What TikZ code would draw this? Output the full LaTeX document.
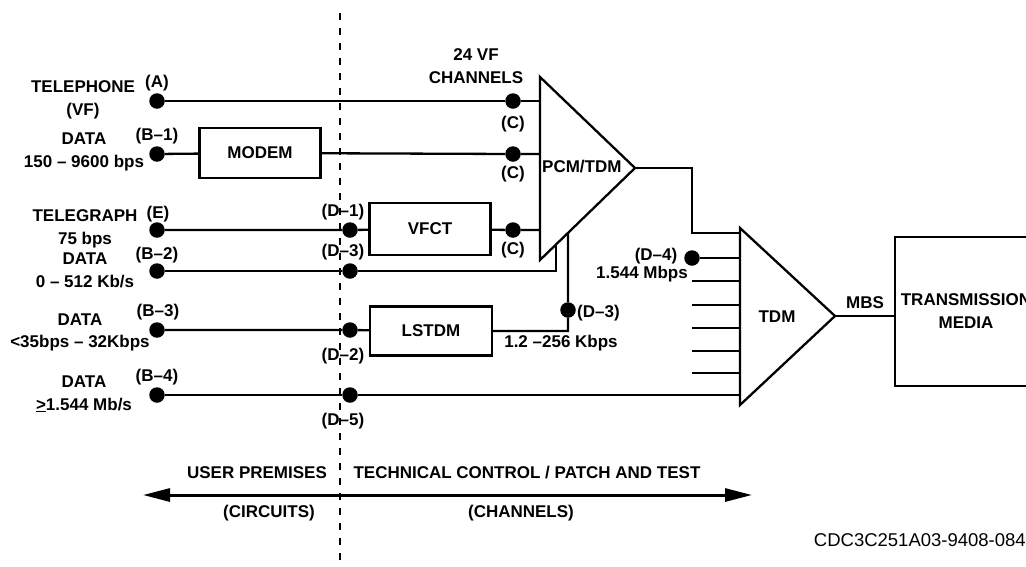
\documentclass[tikz,border=0pt]{standalone}
\usepackage{fontspec}
\setmainfont{Liberation Sans}
\usetikzlibrary{positioning,calc,arrows.meta}
\tikzset{
  wire/.style={line width=2.3pt,draw=black},
  dot/.style={circle,fill=black,inner sep=0pt,minimum size=15.5pt},
  unitbox/.style={draw=black,line width=2.3pt,inner sep=0pt,
    font=\fontsize{17}{23}\selectfont\bfseries,align=center},
  lbl/.style={font=\fontsize{17}{22.5}\selectfont\bfseries,align=center,inner sep=0pt},
  divider/.style={line width=2.2pt,dash pattern=on 7pt off 8pt},
  span/.style={line width=3pt,{Triangle[length=27pt,width=13pt]}-{Triangle[length=27pt,width=13pt]}},
}

\begin{document}
\begin{tikzpicture}[x=1pt,y=-1pt]
  \useasboundingbox (0,0) rectangle (1026,566);
  \draw[divider] (340,13) -- (340,566);

  \node[dot] (a)  at (157,101) {};
  \node[dot] (b1) at (157,154) {};
  \node[dot] (e)  at (157,230) {};
  \node[dot] (b2) at (157,271) {};
  \node[dot] (b3) at (157,330) {};
  \node[dot] (b4) at (157,395) {};
  \node[dot] (d1) at (350,230) {};
  \node[dot] (d3) at (350,271) {};
  \node[dot] (d2) at (350,330) {};
  \node[dot] (d5) at (350,395) {};
  \node[dot] (c1) at (513,101) {};
  \node[dot] (c2) at (513,154) {};
  \node[dot] (c3) at (513,230) {};
  \node[dot] (d3b) at (568,310) {};
  \node[dot] (d4) at (692,258) {};

  \node[unitbox,minimum width=121pt,minimum height=50pt] (modem) at (260,153) {MODEM};
  \node[unitbox,minimum width=121pt,minimum height=52pt] (vfct) at (430,229) {VFCT};
  \node[unitbox,minimum width=122pt,minimum height=49pt] (lstdm) at (431,331) {LSTDM};
  \node[unitbox,minimum width=142pt,minimum height=149pt] (media) at (966,311.5) {TRANSMISSION\\MEDIA};

  \coordinate (pcmT) at (540,77);
  \coordinate (pcmB) at (540,260);
  \coordinate (pcmO) at (635,168);
  \coordinate (tdmT) at (740,228);
  \coordinate (tdmB) at (740,405);
  \coordinate (tdmO) at (835,316);
  \coordinate (pcmIn1) at ($(pcmB)!0.168!(pcmO)$);
  \coordinate (pcmIn2) at ($(pcmB)!0.295!(pcmO)$);
  \coordinate (bend) at (692,233);
  \draw[wire,line join=miter] (pcmT) -- (pcmO) -- (pcmB) -- cycle;
  \draw[wire,line join=miter] (tdmT) -- (tdmO) -- (tdmB) -- cycle;
  \node[lbl,anchor=west] (pcm) at (542,167) {PCM/TDM};
  \node[lbl] (tdm) at (777,317) {TDM};

  \draw[wire] (a) -- (c1) -- (c1 -| pcmT);
  \draw[wire] (b1) -- (modem);
  \draw[wire] (modem) -- (c2) -- (c2 -| pcmT);
  \draw[wire] (e) -- (d1) -- (vfct);
  \draw[wire] (vfct) -- (c3) -- (c3 -| pcmT);
  \draw[wire] (b2) -- (d3) -- (d3 -| pcmIn1) -- (pcmIn1);
  \draw[wire] (b3) -- (d2) -- (lstdm);
  \draw[wire] (lstdm.east) -- (lstdm.east -| pcmIn2) -- (d3b) -- (pcmIn2);
  \draw[wire] (b4) -- (d5) -- (d5 -| tdmT);
  \draw[wire] (pcmO) -- (pcmO -| bend) -- (bend) -- (bend -| tdmT);
  \draw[wire] (d4) -- (d4 -| tdmT);
  \foreach \y [count=\i] in {281,305,328,351,373}{
    \coordinate (stub\i) at (692,\y);
    \draw[wire] (stub\i) -- (stub\i -| tdmT);
  }
  \draw[wire] (tdmO) -- (tdmO -| media.west);

  \node[lbl] (telLbl) at (83,100) {TELEPHONE\\(VF)};
  \node[lbl] (data1Lbl) at (84,152) {DATA\\150 – 9600 bps};
  \node[lbl] (tgLbl) at (85,229) {TELEGRAPH\\75 bps};
  \node[lbl] (data2Lbl) at (85,270.5) {DATA\\0 – 512 Kb/s};
  \node[lbl] (data3Lbl) at (80,332.5) {DATA\\<35bps – 32Kbps};
  \node[lbl] (data4Lbl) at (84,394) {DATA\\\underline{>}1.544 Mb/s};
  \node[lbl] at (157,83) {(A)};
  \node[lbl] at (157,136) {(B–1)};
  \node[lbl] at (158,214) {(E)};
  \node[lbl] at (157,255) {(B–2)};
  \node[lbl] at (158,312) {(B–3)};
  \node[lbl] at (157,377) {(B–4)};
  \node[lbl] at (343,212) {(D–1)};
  \node[lbl] at (343,252) {(D–3)};
  \node[lbl] at (343,356) {(D–2)};
  \node[lbl] at (343,421) {(D–5)};
  \node[lbl] at (513,124) {(C)};
  \node[lbl] at (513,174) {(C)};
  \node[lbl] at (513,250) {(C)};
  \node[lbl] at (476,66) {24 VF\\CHANNELS};
  \node[lbl,anchor=west] at (577,313) {(D–3)};
  \node[lbl] at (561,343) {1.2 –256 Kbps};
  \node[lbl] at (656,256) {(D–4)};
  \node[lbl] at (642,274) {1.544 Mbps};
  \node[lbl] at (865,303) {MBS};

  \coordinate (spanL) at (143,495);
  \coordinate (spanR) at (752,495);
  \draw[span] (spanL) -- (spanR);
  \node[lbl] at (257,473) {USER PREMISES};
  \node[lbl] at (527,473) {TECHNICAL CONTROL / PATCH AND TEST};
  \node[lbl] at (269,513) {(CIRCUITS)};
  \node[lbl] at (521,513) {(CHANNELS)};
  \node[lbl,anchor=east,font=\fontsize{18.5}{22}\selectfont] at (1026,540) {CDC3C251A03-9408-084};
\end{tikzpicture}
\end{document}
